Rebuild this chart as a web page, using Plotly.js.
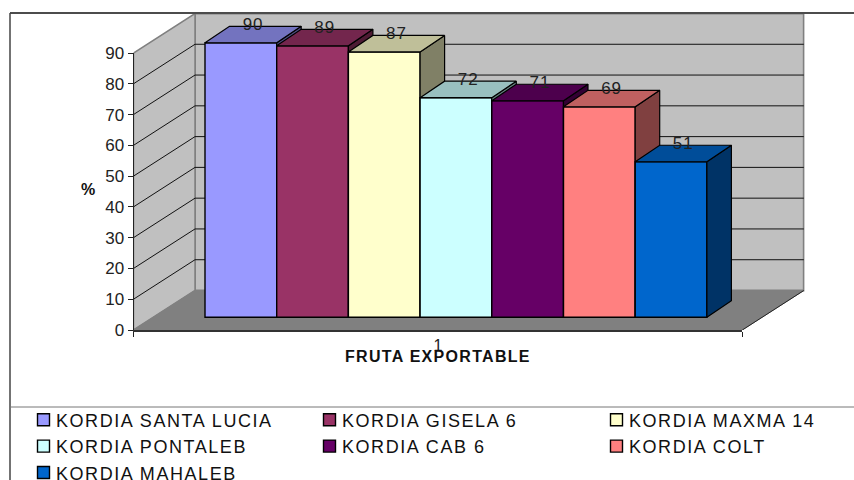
<!DOCTYPE html>
<html><head><meta charset="utf-8">
<script src="https://cdn.plot.ly/plotly-3.0.1.min.js"></script>
<style>html,body{margin:0;padding:0;background:#fff}#c{width:854px;height:480px}
text.legendtext,text.legend2text,text.legend3text{letter-spacing:1.55px}
g.legendsymbols{transform:translateX(7.5px)}
#c .ytick text,#c .textpoint text{letter-spacing:1px}
#c .g-x2title text{letter-spacing:1.3px}
</style>
</head><body><div id="c"></div>
<script>
const names=["KORDIA SANTA LUCIA","KORDIA GISELA 6","KORDIA MAXMA 14","KORDIA PONTALEB","KORDIA CAB 6","KORDIA COLT","KORDIA MAHALEB"];
const values=[90,89,87,72,71,69,51];
const frontColors=["#9999FF","#993366","#FFFFCC","#CCFFFF","#660066","#FF8080","#0066CC"];
const topColors=["#7373BF","#73264D","#BFBF99","#99BFBF","#4D004D","#BF6060","#004D99"];
const sideColors=["#4D4D80","#4D1A33","#808066","#668080","#330033","#804040","#003366"];
const yTicks=[0,10,20,30,40,50,60,70,80,90];
const categoryTicks=["1"];
const xTitle="FRUTA EXPORTABLE", yTitle="%";

const W=854,H=480,FF="Liberation Sans, Arial, sans-serif";
const px=p=>p/W, py=p=>1-p/H;
const frontL=133.5,frontR=742.3,backR=804.5,axisB=330,wallT=14,tick90=53;
const xUnit=frontR-frontL, wallScale=(axisB-tick90)/90, barScale=3.05, barBase=317.3;
const wallDx=(195-frontL)/xUnit, wallDy=(axisB-290.5)/wallScale;
const barStart=(205-frontL)/xUnit, barW=71.7/xUnit;
const depthX=24.5/xUnit, depthY=16.5/barScale;
const barRange=[-(axisB-barBase)/barScale,(barBase-wallT)/barScale];
const poly=(xs,ys,fill,lc,lw,axis)=>({type:"scatter",mode:"lines",x:xs,y:ys,fill:"toself",fillcolor:fill,
  line:{color:lc,width:lw},xaxis:"x",yaxis:axis||"y",showlegend:false,hoverinfo:"skip"});
const line=(xs,ys,lc,lw)=>({type:"scatter",mode:"lines",x:xs,y:ys,line:{color:lc,width:lw},xaxis:"x",yaxis:"y",showlegend:false,hoverinfo:"skip"});

const traces=[];
const top90=yTicks[yTicks.length-1];
traces.push(poly([wallDx,1+wallDx,1+wallDx,wallDx,wallDx],[wallDy,wallDy,top90+wallDy,top90+wallDy,wallDy],"#C0C0C0","#808080",2));
traces.push(poly([0,wallDx,wallDx,0,0],[0,wallDy,top90+wallDy,top90,0],"#C0C0C0","#808080",1.5));
traces.push(poly([0,1,1+wallDx,wallDx,0],[0,0,wallDy,wallDy,0],"#808080","#808080",1));
traces.push(line([1,1+wallDx],[0,wallDy],"#222222",1));
yTicks.slice(1,-1).forEach(t=>traces.push(line([0,wallDx,1+wallDx],[t,t+wallDy,t+wallDy],"#111111",1)));

const axes={};
values.forEach((v,i)=>{
  const a="y"+(i+3), xl=barStart+i*barW, xr=xl+barW;
  axes["yaxis"+(i+3)]={overlaying:"y",anchor:"x",range:barRange,visible:false,fixedrange:true};
  const leg=[0,3,6].includes(i)?"legend":[1,4].includes(i)?"legend2":"legend3";
  traces.push({type:"bar",x:[xl+barW/2],y:[v],width:[barW],name:names[i],xaxis:"x",yaxis:a,legend:leg,
    marker:{color:frontColors[i],line:{color:"#000000",width:1.4}},hoverinfo:"skip"});
  traces.push(poly([xr,xr+depthX,xr+depthX,xr,xr],[0,depthY,v+depthY,v,0],sideColors[i],"#000000",1.2,a));
  traces.push(poly([xl,xr,xr+depthX,xl+depthX,xl],[v,v,v+depthY,v+depthY,v],topColors[i],"#000000",1.2,a));
});
traces.push({type:"scatter",mode:"text",x:values.map((v,i)=>barStart+(i+.5)*barW+depthX/2),y:values.map(v=>v+depthY/2),
  text:values.map(String),textposition:"top center",textfont:{family:FF,size:17,color:"#222222"},
  xaxis:"x",yaxis:"y9",showlegend:false,hoverinfo:"skip",cliponaxis:false});
traces.push({type:"scatter",mode:"none",x:[],y:[],xaxis:"x2",yaxis:"y2",showlegend:false,hoverinfo:"skip"});

const legendCommon={orientation:"v",yanchor:"top",xanchor:"left",bgcolor:"rgba(0,0,0,0)",borderwidth:0,
  font:{family:FF,size:18,color:"#111111"},itemclick:false,itemdoubleclick:false};
const legendTop=py(401.5);
const layout={width:W,height:H,margin:{l:0,r:0,t:0,b:0,autoexpand:false},paper_bgcolor:"#fff",plot_bgcolor:"rgba(0,0,0,0)",showlegend:true,hovermode:false,barmode:"overlay",
  font:{family:FF,size:16,color:"#222222"},
  xaxis:{domain:[px(frontL),px(backR)],range:[0,(backR-frontL)/xUnit],anchor:"y",tickmode:"array",tickvals:[.5],ticktext:categoryTicks,ticks:"",ticklabelstandoff:4,
    tickfont:{family:FF,size:16,color:"#222222"},showgrid:false,zeroline:false,showline:false,fixedrange:true},
  yaxis:{domain:[py(axisB),py(wallT)],range:[0,(axisB-wallT)/wallScale],anchor:"x",visible:false,fixedrange:true},
  xaxis2:{domain:[px(frontL),px(frontR)],range:[0,1],anchor:"y2",tickmode:"array",tickvals:[0,1],ticks:"outside",ticklen:5,tickwidth:1,tickcolor:"#222",showticklabels:false,showgrid:false,zeroline:false,showline:true,linecolor:"#333333",linewidth:2,
    fixedrange:true,automargin:true,
    title:{text:"<b>"+xTitle+"</b>",font:{family:FF,size:16,color:"#111111"},standoff:15}},
  yaxis2:{domain:[py(axisB),py(tick90)],range:[0,90],anchor:"x2",tickmode:"array",tickvals:yTicks,ticktext:yTicks.map(String),ticks:"outside",ticklen:5,tickwidth:1,tickcolor:"#222",showgrid:false,zeroline:false,showline:true,linecolor:"#222222",linewidth:1,
    tickfont:{family:FF,size:17,color:"#222222"},fixedrange:true},
  annotations:[{text:"<b>"+yTitle+"</b>",xref:"paper",yref:"paper",x:px(88),y:py(190),xanchor:"center",yanchor:"middle",showarrow:false,textangle:0,font:{family:FF,size:16,color:"#111111"}}],
  legend:Object.assign({},legendCommon,{x:px(16),y:legendTop}),
  legend2:Object.assign({},legendCommon,{x:px(302),y:legendTop}),
  legend3:Object.assign({},legendCommon,{x:px(589),y:legendTop}),
  shapes:[
    {type:"line",xref:"paper",yref:"paper",x0:px(10),x1:1,y0:py(13),y1:py(13),line:{color:"#111111",width:1.5}},
    {type:"line",xref:"paper",yref:"paper",x0:px(10),x1:px(10),y0:py(13),y1:0,line:{color:"#444444",width:1.5}},
    {type:"line",xref:"paper",yref:"paper",x0:px(10),x1:1,y0:py(407),y1:py(407),line:{color:"#777777",width:1}}
  ]};
Object.assign(layout,axes);
Plotly.newPlot("c",traces,layout,{displayModeBar:false,staticPlot:true});
</script></body></html>
